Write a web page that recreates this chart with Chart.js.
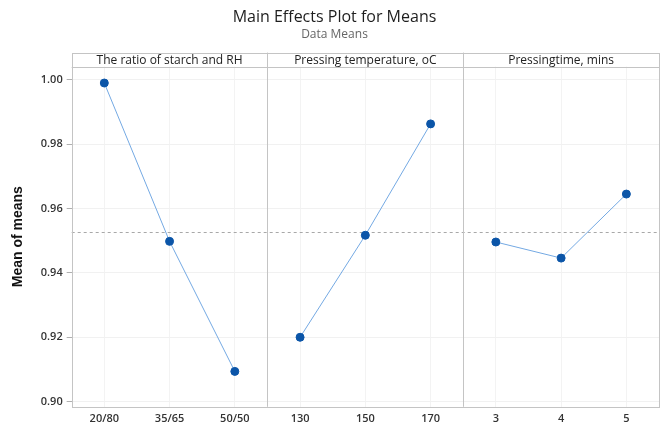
<!DOCTYPE html>
<html>
<head>
<meta charset="utf-8">
<script src="https://cdn.jsdelivr.net/npm/chart.js@4.4.0/dist/chart.umd.min.js"></script>
<style>
  html, body { margin: 0; padding: 0; background: #fff; }
  #wrap { width: 664px; height: 434px; }
</style>
</head>
<body>
<div id="wrap"><canvas id="chart" width="664" height="434"></canvas></div>
<script>
// Datos de la grafica
var panelNames = ['The ratio of starch and RH', 'Pressing temperature, oC', 'Pressingtime, mins'];
var ratioLevels = ['20/80', '35/65', '50/50'];
var tempLevels = ['130', '150', '170'];
var timeLevels = ['3', '4', '5'];
var ratioMeans = [0.9990, 0.9498, 0.9094];
var tempMeans = [0.9200, 0.9517, 0.9863];
var timeMeans = [0.9496, 0.9446, 0.9645];
var yTicks = [0.90, 0.92, 0.94, 0.96, 0.98, 1.00];

var labels = ratioLevels.concat(tempLevels, timeLevels);
var grandMean = (ratioMeans[0] + ratioMeans[1] + ratioMeans[2]) / 3;

function padSeries(values, start) {
    var out = [];
    for (var i = 0; i < labels.length; i++) out.push(null);
    values.forEach(function(v, i) { out[start + i] = v; });
    return out;
}

function makeSet(values, start) {
    return {
        data: padSeries(values, start),
        borderColor: '#74a9e3',
        borderWidth: 1,
        pointRadius: 4,
        pointHoverRadius: 4,
        pointBackgroundColor: '#0b55a8',
        pointBorderColor: '#0b55a8',
        spanGaps: false
    };
}

// Paneles, cabeceras y linea de la media
var panelsPlugin = {
    id: 'panels',
    beforeDatasetsDraw: function(chart) {
        var ctx = chart.ctx, a = chart.chartArea;
        var y = chart.scales.y;
        var yMean = y.getPixelForValue(grandMean);
        ctx.save();
        ctx.strokeStyle = '#a8a8a8';
        ctx.lineWidth = 1;
        ctx.setLineDash([3, 3]);
        ctx.beginPath();
        ctx.moveTo(a.left, Math.round(yMean) + 0.5);
        ctx.lineTo(a.right, Math.round(yMean) + 0.5);
        ctx.stroke();
        ctx.restore();
    },
    afterDraw: function(chart) {
        var ctx = chart.ctx, a = chart.chartArea;
        var slot = (a.right - a.left) / labels.length;
        var hTop = a.top - 14;
        ctx.save();
        ctx.strokeStyle = '#c4c4c4';
        ctx.lineWidth = 1;
        ctx.strokeRect(Math.round(a.left) + 0.5, Math.round(hTop) + 0.5,
            Math.round(a.right - a.left), Math.round(a.bottom - hTop));
        ctx.beginPath();
        ctx.moveTo(a.left, Math.round(a.top) + 0.5);
        ctx.lineTo(a.right, Math.round(a.top) + 0.5);
        for (var p = 1; p < 3; p++) {
            var sx = Math.round(a.left + slot * 3 * p) + 0.5;
            ctx.moveTo(sx, hTop);
            ctx.lineTo(sx, a.bottom);
        }
        ctx.stroke();
        ctx.fillStyle = '#222';
        ctx.font = '12px "Open Sans", "Noto Sans", sans-serif';
        ctx.textAlign = 'center';
        ctx.textBaseline = 'middle';
        panelNames.forEach(function(name, p) {
            ctx.fillText(name, a.left + slot * (3 * p + 1.5), hTop + 7.5);
        });
        ctx.restore();
    }
};

new Chart(document.getElementById('chart'), {
    type: 'line',
    data: {
        labels: labels,
        datasets: [makeSet(ratioMeans, 0), makeSet(tempMeans, 3), makeSet(timeMeans, 6)]
    },
    options: {
        responsive: false,
        animation: false,
        layout: { padding: { left: 10, right: 5, bottom: 4 } },
        plugins: {
            legend: { display: false },
            tooltip: { enabled: false },
            title: {
                display: true,
                text: 'Main Effects Plot for Means',
                color: '#1e1e1e',
                font: { family: '"Open Sans", "Noto Sans", sans-serif', size: 16, weight: '500' },
                padding: { top: 8, bottom: 0 }
            },
            subtitle: {
                display: true,
                text: 'Data Means',
                color: '#666',
                font: { family: '"Open Sans", "Noto Sans", sans-serif', size: 12 },
                padding: { top: 0, bottom: 25 }
            }
        },
        scales: {
            x: {
                type: 'category',
                offset: true,
                grid: { offset: false, color: '#f3f3f3', drawTicks: false },
                border: { display: false },
                ticks: {
                    color: '#333',
                    padding: 5,
                    maxRotation: 0,
                    font: { family: '"Open Sans", "Noto Sans", sans-serif', size: 11, weight: '600' }
                }
            },
            y: {
                min: 0.8984,
                max: 1.0041,
                afterBuildTicks: function(scale) {
                    scale.ticks = yTicks.map(function(v) { return { value: v }; });
                },
                grid: { color: '#f1f1f1', tickColor: '#b0b0b0', tickLength: 5 },
                border: { display: false },
                title: {
                    display: true,
                    text: 'Mean of means',
                    color: '#111',
                    font: { family: '"Liberation Sans", Arial, sans-serif', size: 14, weight: 'bold' },
                    padding: { top: 0, bottom: 10 }
                },
                ticks: {
                    color: '#333',
                    padding: 4,
                    font: { family: '"Open Sans", "Noto Sans", sans-serif', size: 11, weight: '600' },
                    callback: function(v) { return Number(v).toFixed(2); }
                }
            }
        }
    },
    plugins: [panelsPlugin]
});
</script>
</body>
</html>
